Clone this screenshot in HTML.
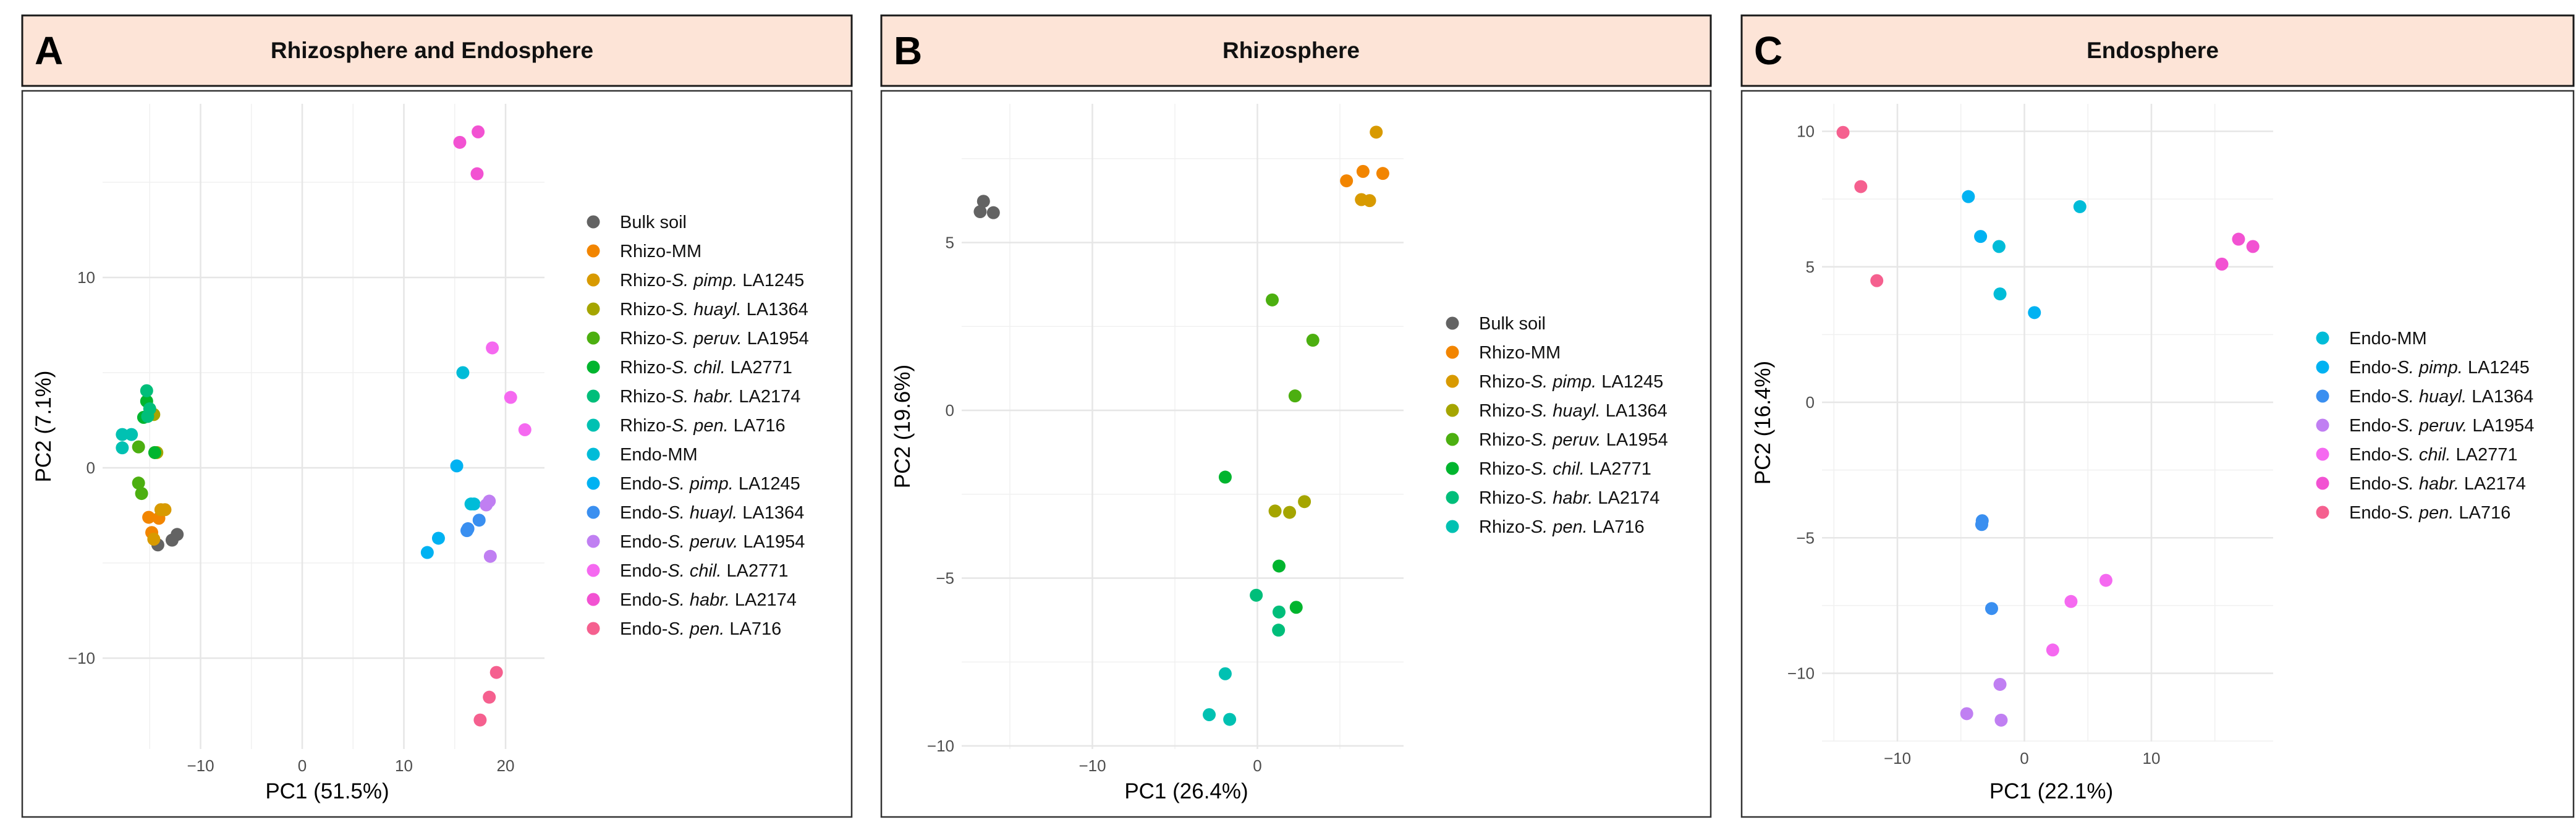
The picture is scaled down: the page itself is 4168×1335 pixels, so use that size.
<!DOCTYPE html>
<html><head><meta charset="utf-8">
<style>
html,body{margin:0;padding:0;background:#fff;}
body{width:4168px;height:1330px;overflow:hidden;font-family:"Liberation Sans",Arial,sans-serif;}
</style></head>
<body>
<svg id="fig" width="4168" height="1330" xmlns="http://www.w3.org/2000/svg"></svg>
<script>
// ---- Panel A data ----
const groupsA = ["Bulk soil","Rhizo-MM","Rhizo-S. pimp. LA1245","Rhizo-S. huayl. LA1364","Rhizo-S. peruv. LA1954","Rhizo-S. chil. LA2771","Rhizo-S. habr. LA2174","Rhizo-S. pen. LA716","Endo-MM","Endo-S. pimp. LA1245","Endo-S. huayl. LA1364","Endo-S. peruv. LA1954","Endo-S. chil. LA2771","Endo-S. habr. LA2174","Endo-S. pen. LA716"];
const pc1A = [[-14.2,-12.8,-12.3],[-15.1,-14.1,-14.8],[-13.9,-13.5,-14.6],[-14.3,-14.6,-14.5],[-16.1,-15.8,-16.1],[-14.5,-15.3,-15.6],[-15.3,-15.0,-15.2],[-17.7,-16.8,-17.7],[15.8,16.6,16.9],[15.2,13.4,12.3],[17.4,16.2,16.3],[18.4,18.1,18.5],[18.7,20.5,21.9],[15.5,17.3,17.2],[19.1,18.4,17.5]];
const pc2A = [[-4.05,-3.8,-3.5],[-2.6,-2.65,-3.4],[-2.2,-2.2,-3.75],[0.8,2.8,0.8],[-0.8,-1.35,1.1],[0.8,3.5,2.65],[4.05,3.1,2.7],[1.75,1.75,1.05],[5.0,-1.9,-1.9],[0.1,-3.7,-4.45],[-2.75,-3.3,-3.2],[-1.75,-1.95,-4.65],[6.3,3.7,2.0],[17.1,17.65,15.45],[-10.75,-12.05,-13.25]];
const xTicksA = [-10,0,10,20];
const yTicksA = [-10,0,10];
// ---- Panel B data ----
const groupsB = ["Bulk soil","Rhizo-MM","Rhizo-S. pimp. LA1245","Rhizo-S. huayl. LA1364","Rhizo-S. peruv. LA1954","Rhizo-S. chil. LA2771","Rhizo-S. habr. LA2174","Rhizo-S. pen. LA716"];
const pc1B = [[-16.6,-16.8,-16.0],[5.4,6.4,7.6],[7.2,6.3,6.8],[1.07,1.95,2.85],[0.9,3.36,2.28],[-1.95,1.31,2.35],[-0.07,1.31,1.28],[-1.95,-2.92,-1.68]];
const pc2B = [[6.23,5.92,5.89],[6.84,7.12,7.06],[8.29,6.28,6.25],[-3.0,-3.04,-2.72],[3.29,2.09,0.43],[-1.99,-4.64,-5.87],[-5.51,-6.01,-6.55],[-7.85,-9.07,-9.21]];
const xTicksB = [-10,0];
const yTicksB = [-10,-5,0,5];
// ---- Panel C data ----
const groupsC = ["Endo-MM","Endo-S. pimp. LA1245","Endo-S. huayl. LA1364","Endo-S. peruv. LA1954","Endo-S. chil. LA2771","Endo-S. habr. LA2174","Endo-S. pen. LA716"];
const pc1C = [[4.37,-2.0,-1.92],[-4.41,-3.45,0.79],[-3.32,-3.36,-2.58],[-1.92,-4.54,-1.83],[6.42,3.67,2.23],[16.86,17.99,15.55],[-14.28,-12.88,-11.62]];
const pc2C = [[7.22,5.75,4.0],[7.59,6.12,3.31],[-4.37,-4.51,-7.61],[-10.41,-11.49,-11.73],[-6.57,-7.35,-9.14],[6.02,5.75,5.1],[9.96,7.96,4.49]];
const xTicksC = [-10,0,10];
const yTicksC = [-10,-5,0,5,10];

const colorMap = {"Bulk soil":"#636363","Rhizo-MM":"#f28500","Rhizo-S. pimp. LA1245":"#d89a00","Rhizo-S. huayl. LA1364":"#a5a500","Rhizo-S. peruv. LA1954":"#4caf10","Rhizo-S. chil. LA2771":"#00b52e","Rhizo-S. habr. LA2174":"#00be7a","Rhizo-S. pen. LA716":"#00c1b2","Endo-MM":"#00bcd8","Endo-S. pimp. LA1245":"#00b2f2","Endo-S. huayl. LA1364":"#3a8ff0","Endo-S. peruv. LA1954":"#c07ff2","Endo-S. chil. LA2771":"#f569f0","Endo-S. habr. LA2174":"#f252d2","Endo-S. pen. LA716":"#f5608f"};

const NS="http://www.w3.org/2000/svg";
const svg=document.getElementById('fig');
function mk(tag,attrs,parent){const e=document.createElementNS(NS,tag);for(const k in attrs)e.setAttribute(k,attrs[k]);(parent||svg).appendChild(e);return e;}
function fmt(v){return v<0?"\u2212"+Math.abs(v):String(v);}

function panel(cfg){
  const g=mk('g',{});
  
  
  const hdr=mk('rect',{x:cfg.bx,y:25,width:cfg.bw,height:114,fill:'#fde4d7',stroke:'#1a1a1a','stroke-width':3},g);
  
  
  const lt=mk('text',{x:cfg.bx+20,y:104,'font-size':64,'font-weight':'bold',fill:'#000'},g);
  lt.textContent=cfg.letter;
  
  
  const tt=mk('text',{x:cfg.bx+cfg.bw/2-8,y:94,'font-size':37,'font-weight':'bold','text-anchor':'middle',fill:'#111'},g);
  tt.textContent=cfg.title;
  
  
  const box=mk('rect',{x:cfg.bx,y:147,width:cfg.bw,height:1175,fill:'#fff',stroke:'#333','stroke-width':2.5},g);
  
  
  const sx=v=>cfg.x0+v*cfg.kx, sy=v=>cfg.y0-v*cfg.ky;
  // minor grid
  cfg.minorX.forEach(v=>{const l=mk('line',{x1:sx(v),x2:sx(v),y1:cfg.pt,y2:cfg.pb,stroke:'#f0f0f0','stroke-width':1.5},g);});
  cfg.minorY.forEach(v=>{const l=mk('line',{x1:cfg.pl,x2:cfg.pr,y1:sy(v),y2:sy(v),stroke:'#f0f0f0','stroke-width':1.5},g);});
  cfg.xt.forEach(v=>{
    const l=mk('line',{x1:sx(v),x2:sx(v),y1:cfg.pt,y2:cfg.pb,stroke:'#e6e6e6','stroke-width':2.5},g);
    
    
    const t=mk('text',{x:sx(v),y:cfg.pb+36,'font-size':26,'text-anchor':'middle',fill:'#4d4d4d'},g);
    t.textContent=fmt(v);
    
    
  });
  cfg.yt.forEach(v=>{
    const l=mk('line',{x1:cfg.pl,x2:cfg.pr,y1:sy(v),y2:sy(v),stroke:'#e6e6e6','stroke-width':2.5},g);
    
    
    const t=mk('text',{x:cfg.pl-12,y:sy(v)+9,'font-size':26,'text-anchor':'end',fill:'#4d4d4d'},g);
    t.textContent=fmt(v);
    
    
  });
  cfg.groups.forEach((gr,i)=>{
    cfg.px[i].forEach((xv,j)=>{
      const c=mk('circle',{cx:sx(xv),cy:sy(cfg.py[i][j]),r:10.5,fill:colorMap[gr]},g);
      
      
    });
  });
  const xa=mk('text',{x:(cfg.pl+cfg.pr)/2+6,y:1292,'font-size':35,'text-anchor':'middle',fill:'#000'},g);
  xa.textContent=cfg.xlab;
  
  
  const yx=cfg.bx+46, yy=(cfg.pt+cfg.pb)/2;
  const ya=mk('text',{x:yx,y:yy,'font-size':35,'text-anchor':'middle',fill:'#000',transform:`rotate(-90 ${yx} ${yy})`},g);
  ya.textContent=cfg.ylab;
  
  
  cfg.groups.forEach((gr,i)=>{
    const y=cfg.ly+i*47;
    const c=mk('circle',{cx:cfg.lx,cy:y,r:10.5,fill:colorMap[gr]},g);
    
    
    const t=mk('text',{x:cfg.lx+43,y:y+10,'font-size':29,fill:'#111'},g);
    
    
    const m=gr.match(/^(\w+-)(S\.)( )(\w+\.)(.*)$/);
    if(m){
      const a=document.createElementNS(NS,'tspan');a.textContent=m[1];t.appendChild(a);
      const b=document.createElementNS(NS,'tspan');b.setAttribute('font-style','italic');b.textContent='S. '+m[4];t.appendChild(b);
      const d=document.createElementNS(NS,'tspan');d.textContent=m[5];t.appendChild(d);
    } else t.textContent=gr;
  });
}
panel({letter:'A',title:'Rhizosphere and Endosphere',bx:36,bw:1342,x0:489,kx:16.45,y0:757,ky:30.8,pl:166,pr:881,pt:168,pb:1212,
  xt:xTicksA,yt:yTicksA,minorX:[-15,-5,5,15],minorY:[15,5,-5],groups:groupsA,px:pc1A,py:pc2A,xlab:'PC1 (51.5%)',ylab:'PC2 (7.1%)',lx:960,ly:359});
panel({letter:'B',title:'Rhizosphere',bx:1426,bw:1342,x0:2034.5,kx:26.7,y0:664,ky:54.3,pl:1556,pr:2271,pt:168,pb:1212,
  xt:xTicksB,yt:yTicksB,minorX:[-15,-5,5],minorY:[7.5,2.5,-2.5,-7.5],groups:groupsB,px:pc1B,py:pc2B,xlab:'PC1 (26.4%)',ylab:'PC2 (19.6%)',lx:2350,ly:523});
panel({letter:'C',title:'Endosphere',bx:2818,bw:1346,x0:3275.5,kx:20.55,y0:651,ky:43.85,pl:2948,pr:3678,pt:168,pb:1200,
  xt:xTicksC,yt:yTicksC,minorX:[-15,-5,5,15],minorY:[7.5,2.5,-2.5,-7.5,-12.5],groups:groupsC,px:pc1C,py:pc2C,xlab:'PC1 (22.1%)',ylab:'PC2 (16.4%)',lx:3758,ly:547});
</script>
</body></html>
